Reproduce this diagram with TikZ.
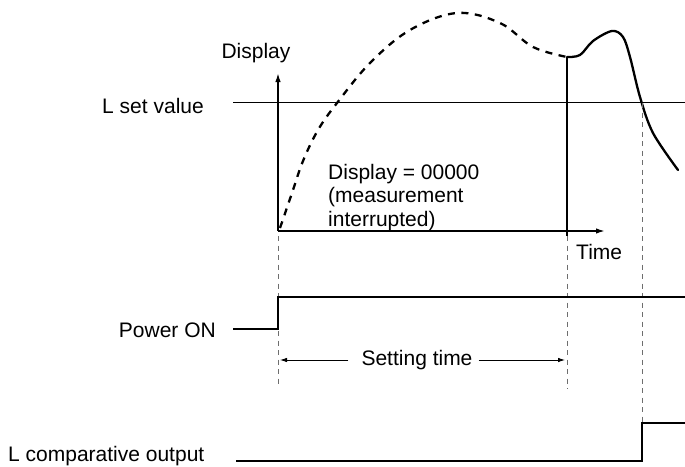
\documentclass[tikz,border=0pt]{standalone}
\usepackage{fontspec}
\setmainfont{Liberation Sans}
\usetikzlibrary{arrows.meta,positioning,calc}
\definecolor{ink}{HTML}{000000}
\definecolor{guide}{HTML}{6E6E6E}
\tikzset{
  tag/.style={inner sep=0pt,text=ink,font=\fontsize{21}{23.3}\selectfont},
  signal/.style={line width=1.6pt,ink},
  axisline/.style={-{Latex[length=9pt,width=5.5pt]},line width=1.6pt,ink},
  setline/.style={line width=0.9pt,ink},
  guideline/.style={guide,line width=1pt,dash pattern=on 5pt off 4.5pt},
  dimline/.style={-{Latex[length=7pt,width=4.5pt]},line width=0.8pt,ink},
  trend/.style={line width=2.3pt,ink,line join=round,line cap=round}
}
\begin{document}
\begin{tikzpicture}[x=1pt,y=-1pt]
  \useasboundingbox (0,0) rectangle (685,466);
  % display axes
  \coordinate (orig) at (278,231);
  \coordinate (ytip) at (278,73);
  \coordinate (xtip) at (605,231);
  \draw[axisline] (orig) -- (ytip);
  \draw[axisline] (orig) -- (xtip);
  \node[tag,anchor=base] (disp) at (256,58) {Display};
  \node[tag,anchor=base west] (time) at (576,259) {Time};
  % L set value
  \node[tag,anchor=base east] (setval) at (204,113) {L set value};
  \coordinate (setA) at (233,102);
  \coordinate (setB) at (685,102);
  \draw[setline] (setA) -- (setB);
  % measured value
  \coordinate (hold) at (567,57);
  \coordinate (holdB) at (567,236);
  \coordinate (cross) at (642,103);
  \draw[trend,dash pattern=on 7pt off 6.5pt,line cap=butt] plot[smooth,tension=0.6] coordinates
    {(280,228) (292,193) (303,161) (318,130) (337,103) (370,63) (410,30) (457,13) (500,23) (533,47) (567,57)};
  \draw[trend] plot[smooth,tension=0.55] coordinates
    {(567,57) (580,55) (593,41) (612,31) (623,37) (630,57) (640,97) (653,133) (678,170)};
  \draw[signal,line width=1.3pt] (hold) -- (holdB);
  \node[tag,anchor=north west,align=left] (zero) at (328,164) {Display = 00000\\(measurement\\interrupted)};
  % timing guides
  \draw[guideline] (278,236) -- (278,388);
  \draw[guideline] (567,236) -- (567,389);
  \draw[guideline] (cross) -- (642,423);
  % power on
  \node[tag,anchor=base east] (pwr) at (216,337) {Power ON};
  \coordinate (pwrA) at (233,329);
  \coordinate (pwrB) at (278,329);
  \coordinate (pwrC) at (278,297);
  \coordinate (pwrD) at (685,297);
  \draw[signal] (pwrA) -- (pwrB) -- (pwrC) -- (pwrD);
  % setting time
  \node[tag] (settle) at (417,360) {Setting time};
  \coordinate (settleL) at (280,360);
  \coordinate (settleR) at (565,360);
  \draw[dimline] ([xshift=-13pt]settle.west) -- (settleL);
  \draw[dimline] ([xshift=6pt]settle.east) -- (settleR);
  % L comparative output
  \node[tag,anchor=base west] (cmp) at (8,461) {L comparative output};
  \coordinate (cmpA) at (236,461);
  \coordinate (cmpB) at (642,461);
  \coordinate (cmpC) at (642,423);
  \coordinate (cmpD) at (685,423);
  \draw[signal] (cmpA) -- (cmpB) -- (cmpC) -- (cmpD);
\end{tikzpicture}
\end{document}
